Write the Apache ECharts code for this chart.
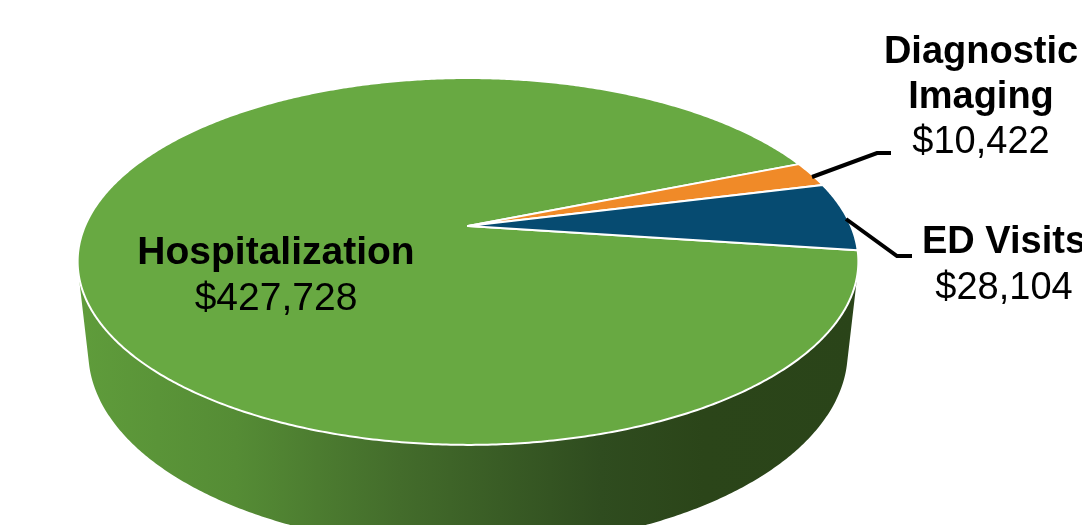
<!DOCTYPE html>
<html>
<head>
<meta charset="utf-8">
<script src="https://cdn.jsdelivr.net/npm/echarts@6/dist/echarts.min.js"></script>
<style>
html,body{margin:0;padding:0;background:#fff;}
#chart{width:1082px;height:525px;}
</style>
</head>
<body>
<div id="chart"></div>
<script>
// ---- data ----
const categories = ['Hospitalization', 'Diagnostic\nImaging', 'ED Visits'];
const values = [427728, 10422, 28104];

// ---- styles / layout ----
const topColors = ['#68a942', '#f08a28', '#064b71'];
const wallColors = [
  {type:'linear', x:80, y:0, x2:860, y2:0, global:true, colorStops:[
    {offset:0, color:'#5f9c3b'}, {offset:0.2, color:'#558c35'}, {offset:0.41, color:'#436c2b'},
    {offset:0.667, color:'#2f4c1f'}, {offset:0.8, color:'#2b4519'}, {offset:1, color:'#2a4419'}]},
  '#a85d18', '#03324c'
];
const startAngle = 7.66;   // degrees, in the pie plane, clockwise on screen
// perspective parameters
const P = {cx:468, cy:226, A:383, sinA:0.461, cosA:0.887, k:0.218, h:0.27};
const labelLayout = [
  {x:276, y:230, lh:46, fs:39},
  {x:981, y:30, lh:45, fs:38, line:[[812,177],[877,153],[891,153]]},
  {x:1004, y:220, lh:46, fs:38, line:[[846,219],[897,256],[912,256]]}
];

const total = values.reduce((a,b)=>a+b,0);
const starts = [];
{ let acc = startAngle; values.forEach(v => { starts.push(acc); acc += v/total*360; }); }

function proj(deg, bottom) {
  const t = deg*Math.PI/180, x = Math.cos(t), z = Math.sin(t), y = bottom ? -P.h : 0;
  const d = 1 - P.k*(y*P.sinA + z*P.cosA);
  return [P.cx + P.A*x/d, P.cy + P.A*(z*P.sinA - y*P.cosA)/d];
}
const sil = Math.asin(P.k/P.cosA)*180/Math.PI;

function arc(a0, a1, bottom) {
  const pts = [];
  const n = Math.max(2, Math.ceil((a1-a0)/0.5));
  for (let j=0;j<=n;j++) pts.push(proj(a0+(a1-a0)*j/n, bottom));
  return pts;
}
function money(v){ return '$' + v.toLocaleString('en-US'); }

const chart = echarts.init(document.getElementById('chart'), null, {renderer:'canvas'});
chart.setOption({
  animation:false,
  backgroundColor:'#fff',
  series:[{
    type:'custom',
    coordinateSystem:'none',
    data: values.map((v,i)=>({name:categories[i], value:v})),
    renderItem(params, api){
      const i = params.dataIndex;
      const span = api.value(0)/total*360;
      const a0 = starts[i], a1 = a0 + span;
      const children = [];
      // side wall (front visible part)
      for (const off of [0,360,-360]) {
        const s = Math.max(a0, sil+off), e = Math.min(a1, 180-sil+off);
        if (e > s) {
          const pts = arc(s,e,false).concat(arc(s,e,true).reverse());
          children.push({type:'polygon', z2:0, silent:true, shape:{points:pts},
            style:{fill:wallColors[i], stroke:null}});
        }
      }
      // top face
      const top = [[P.cx,P.cy]].concat(arc(a0,a1,false));
      children.push({type:'polygon', z2:10, silent:true, shape:{points:top},
        style:{fill:topColors[i], stroke:'#ffffff', lineWidth:2, lineJoin:'round'}});
      // label
      const L = labelLayout[i];
      const nameLines = categories[i].split('\n').map(s=>'{b|'+s+'}').join('\n');
      children.push({type:'text', z2:20, silent:true, x:L.x, y:L.y,
        style:{text: nameLines + '\n{v|' + money(api.value(0)) + '}', align:'center', verticalAlign:'top',
          rich:{
            b:{fontFamily:'Liberation Sans, Arial, sans-serif', fontWeight:'bold', fontSize:L.fs, lineHeight:L.lh, fill:'#000', align:'center'},
            v:{fontFamily:'Liberation Sans, Arial, sans-serif', fontWeight:'normal', fontSize:L.fs, lineHeight:L.lh, fill:'#000', align:'center'}
          }}});
      if (L.line) {
        children.push({type:'polyline', z2:20, silent:true, shape:{points:L.line},
          style:{stroke:'#000', lineWidth:4, fill:null, lineJoin:'miter'}});
      }
      return {type:'group', children};
    }
  }]
});
</script>
</body>
</html>
